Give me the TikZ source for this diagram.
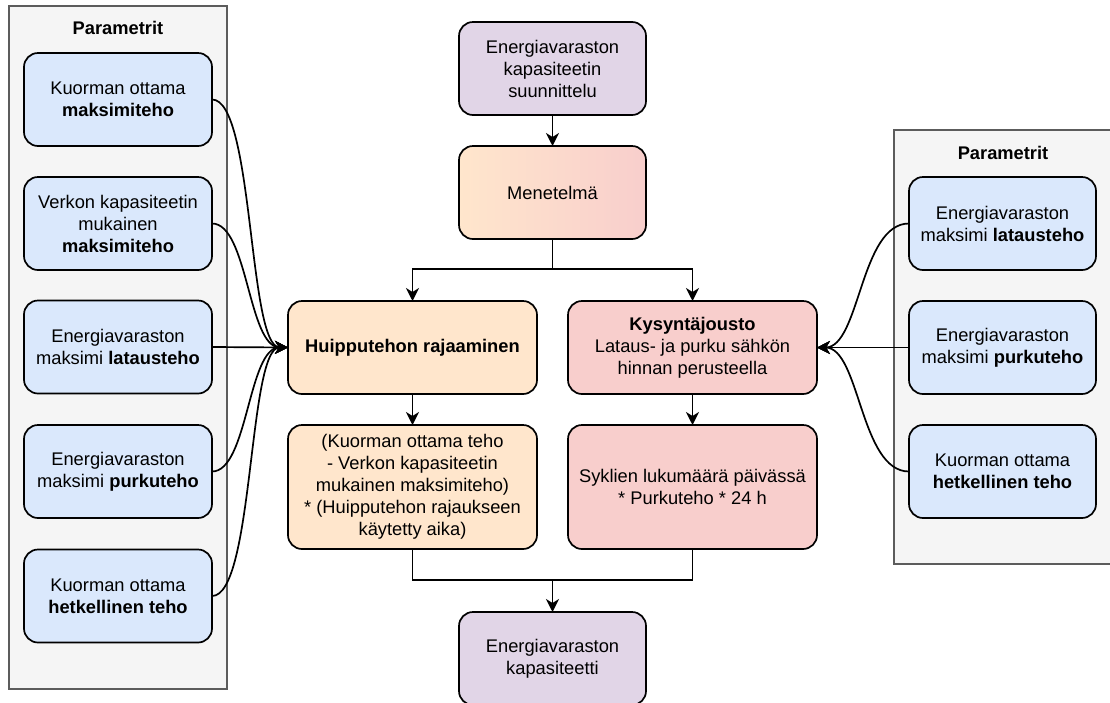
\documentclass[tikz,border=0pt]{standalone}
\usepackage{fontspec}
\setmainfont{Liberation Sans}
\usetikzlibrary{arrows.meta}

\definecolor{paramfill}{HTML}{DAE8FC}
\definecolor{orangefill}{HTML}{FFE6CC}
\definecolor{redfill}{HTML}{F8CECC}
\definecolor{purplefill}{HTML}{E1D5E7}
\definecolor{panelfill}{HTML}{F5F5F5}
\definecolor{paneldraw}{HTML}{5C5C5C}

\tikzset{
  base/.style={rectangle, rounded corners=14pt, draw=black, line width=1.7pt,
    inner sep=0pt, outer sep=0pt, align=center, text=black,
    font=\fontsize{18.3}{22}\selectfont},
  parambox/.style={base, fill=paramfill, minimum width=188pt, minimum height=93pt},
  purplebox/.style={base, fill=purplefill, minimum width=187pt, minimum height=93pt},
  orangebox/.style={base, fill=orangefill, minimum width=249pt},
  redbox/.style={base, fill=redfill, minimum width=249pt},
  panel/.style={rectangle, draw=paneldraw, fill=panelfill, line width=1.7pt,
    inner sep=0pt, outer sep=0pt},
  paneltitle/.style={font=\fontsize{18.3}{22}\selectfont\bfseries, inner sep=0pt},
  link/.style={line width=1.7pt, draw=black,
    -{Stealth[length=13pt, width=13pt, inset=4pt]}},
  plain/.style={line width=1.7pt, draw=black},
}

\begin{document}
\begin{tikzpicture}[x=1pt, y=-1pt]
\useasboundingbox (0,0) rectangle (1110,702);
\clip (0,0) rectangle (1110,702);

% left parameter panel
\node[panel, minimum width=218pt, minimum height=683pt] (lpanel) at (118,347.5) {};
\node[paneltitle] (ltitle) at (118,28) {Parametrit};
\node[parambox] (l1) at (118,99.5) {Kuorman ottama\\\textbf{maksimiteho}};
\node[parambox] (l2) at (118,223.5) {Verkon kapasiteetin\\mukainen\\\textbf{maksimiteho}};
\node[parambox] (l3) at (118,347) {Energiavaraston\\maksimi \textbf{latausteho}};
\node[parambox] (l4) at (118,471.5) {Energiavaraston\\maksimi \textbf{purkuteho}};
\node[parambox] (l5) at (118,596) {Kuorman ottama\\\textbf{hetkellinen teho}};

% right parameter panel (runs past the right edge)
\node[panel, minimum width=228pt, minimum height=434pt] (rpanel) at (1008,347) {};
\node[paneltitle] (rtitle) at (1003,153) {Parametrit};
\node[parambox, minimum width=187pt] (r1) at (1002.5,223.5) {Energiavaraston\\maksimi \textbf{latausteho}};
\node[parambox, minimum width=187pt] (r2) at (1002.5,347.5) {Energiavaraston\\maksimi \textbf{purkuteho}};
\node[parambox, minimum width=187pt] (r3) at (1002.5,471.5) {Kuorman ottama\\\textbf{hetkellinen teho}};

% central flow
\node[purplebox] (design) at (552.5,68.5) {Energiavaraston\\kapasiteetin\\suunnittelu};
\node[base, left color=orangefill, right color=redfill, minimum width=187pt,
      minimum height=93pt] (method) at (552.5,192.5) {Menetelmä};
\node[orangebox, minimum height=93pt] (peak) at (412.5,347.5) {\textbf{Huipputehon rajaaminen}};
\node[redbox, minimum height=93pt] (demand) at (692.5,347.5)
  {\textbf{Kysyntäjousto}\\Lataus- ja purku sähkön\\hinnan perusteella};
\node[orangebox, minimum height=124pt] (peakcalc) at (412.5,487)
  {(Kuorman ottama teho\\- Verkon kapasiteetin\\mukainen maksimiteho)\\* (Huipputehon rajaukseen\\käytetty aika)};
\node[redbox, minimum height=124pt] (demandcalc) at (692.5,487)
  {Syklien lukumäärä päivässä\\* Purkuteho * 24 h};
\node[purplebox] (result) at (552.5,658.5) {Energiavaraston\\kapasiteetti};

\coordinate (split) at (552.5,269);
\coordinate (join) at (552.5,580);

% flow connectors
\draw[link] (design) -- (method);
\draw[plain] (method.south) -- (split);
\draw[link] (split) -| (peak.north);
\draw[link] (split) -| (demand.north);
\draw[link] (peak) -- (peakcalc);
\draw[link] (demand) -- (demandcalc);
\draw[plain] (peakcalc.south) |- (join);
\draw[plain] (demandcalc.south) |- (join);
\draw[link] (join) -- (result.north);

% parameter connectors, left
\draw[link] (l1.east) .. controls (254,99.5) and (248,347) .. (peak.west);
\draw[link] (l2.east) .. controls (248,223.5) and (248,347) .. (peak.west);
\draw[link] (l3.east) -- (peak.west);
\draw[link] (l4.east) .. controls (248,471.5) and (248,347) .. (peak.west);
\draw[link] (l5.east) .. controls (254,596) and (248,347) .. (peak.west);

% parameter connectors, right
\draw[link] (r1.west) .. controls (860,223.5) and (860,347.5) .. (demand.east);
\draw[link] (r2.west) -- (demand.east);
\draw[link] (r3.west) .. controls (860,471.5) and (860,347.5) .. (demand.east);
\end{tikzpicture}
\end{document}
